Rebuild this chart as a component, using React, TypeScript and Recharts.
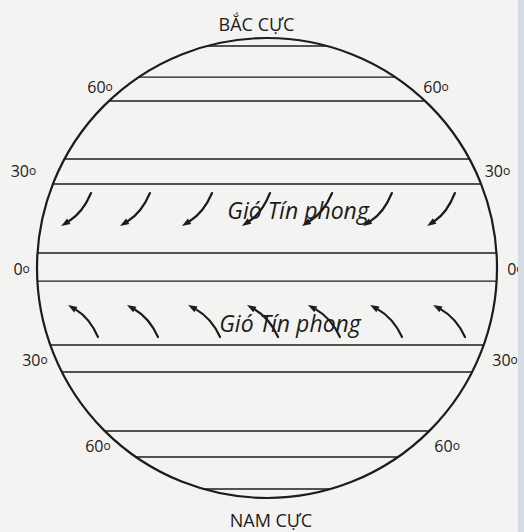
import React from 'react';
import {
  ComposedChart, XAxis, YAxis, Scatter, ReferenceLine, ReferenceDot,
} from 'recharts';

// globe coordinates: the circle has radius 100, centre at 0,0
const latitudeLines = [96.5, 83, 72.6, 47.4, 36.5, 6.5, -5.7, -33.5, -45.2, -70.9, -82.2, -96.1];

// north trade winds: tail (top right) -> head (bottom left)
const northTailX = [-76.5, -50.9, -23.9, 1.3, 28.3, 54.3, 81.7];
const northHeadX = [-89.5, -63.9, -37, -10.9, 15.2, 41.7, 69.6];
const northTailY = 32.6;
const northHeadY = 18.3;

// south trade winds: tail (bottom right) -> head (top left)
const southTailX = [-73.5, -47.4, -20.4, 4.8, 31.7, 58.7, 86.1];
const southHeadX = [-86.5, -60.9, -34.3, -8.7, 17.8, 44.8, 72.2];
const southTailY = -30;
const southHeadY = -16.1;

const degreeLabels = [
  { x: -72.6, y: 78.3, text: '60' },
  { x: 73.5, y: 78.3, text: '60' },
  { x: -105.9, y: 41.7, text: '30' },
  { x: 100.2, y: 41.7, text: '30' },
  { x: -106.7, y: -0.9, text: '0' },
  { x: 108, y: -0.9, text: '0' },
  { x: -100.9, y: -40.4, text: '30' },
  { x: 103.5, y: -40.4, text: '30' },
  { x: -73.5, y: -77.8, text: '60' },
  { x: 78.3, y: -77.8, text: '60' },
];

const poleLabels = [
  { x: -4.6, y: 105.7, text: 'BẮC CỰC' },
  { x: 1.7, y: -110, text: 'NAM CỰC' },
];

const windLabels = [
  { x: 13.5, y: 21.3, text: 'Gió Tín phong' },
  { x: 10, y: -27.8, text: 'Gió Tín phong' },
];

const W = 524;
const H = 532;
const margin = { top: 38, right: 27, bottom: 34, left: 37 };
const R = (W - margin.left - margin.right) / 2;
const INK = '#1c1c1c';
const FONT = '"Open Sans", "Noto Sans", sans-serif';

const half = (y: number) => Math.sqrt(Math.max(0, 100 * 100 - y * y));

const CurvedArrow = (props: any) => {
  const { x1, y1, x2, y2 } = props;
  if (x1 == null) return null;
  const cx = x1 + 0.28 * (x2 - x1);
  const cy = y1 + 0.6 * (y2 - y1);
  const ang = Math.atan2(y2 - cy, x2 - cx);
  const len = 9;
  const wid = 3.2;
  const bx = x2 - len * Math.cos(ang);
  const by = y2 - len * Math.sin(ang);
  const px = -Math.sin(ang) * wid;
  const py = Math.cos(ang) * wid;
  return (
    <g>
      <path d={`M${x1},${y1} Q${cx},${cy} ${bx},${by}`} fill="none" stroke={INK} strokeWidth={2.2} strokeLinecap="round" />
      <path d={`M${x2},${y2} L${bx + px},${by + py} L${bx - px},${by - py} Z`} fill={INK} />
    </g>
  );
};

const degreeText = (text: string) => (props: any) => (
  <text x={props.cx} y={props.cy + 5} textAnchor="middle" fontFamily={FONT} fontSize={16} fill={INK}>
    {text}
    <tspan fontSize={12} dy={-2}>o</tspan>
  </text>
);

const poleText = (text: string) => (props: any) => (
  <text x={props.cx} y={props.cy + 6} textAnchor="middle" fontFamily={FONT} fontSize={18} fill={INK}>
    {text}
  </text>
);

const windText = (text: string) => (props: any) => (
  <text x={props.cx} y={props.cy} textAnchor="middle" fontFamily={FONT} fontStyle="italic" fontSize={23} fill={INK}>
    {text}
  </text>
);

export default function App() {
  return (
    <div style={{ position: 'absolute', left: 0, top: 0, width: W, height: H, background: '#f3f3f1', overflow: 'hidden' }}>
      <ComposedChart width={W} height={H} margin={margin}>
        <XAxis type="number" dataKey="x" domain={[-100, 100]} allowDataOverflow hide />
        <YAxis type="number" dataKey="y" domain={[-100, 100]} allowDataOverflow hide />
        <Scatter data={[{ x: 0, y: 0 }]} shape={() => null} isAnimationActive={false} />
        <ReferenceDot x={0} y={0} r={R} fill="none" stroke={INK} strokeWidth={2.2} ifOverflow="visible" />
        {latitudeLines.map((y, i) => (
          <ReferenceLine
            key={`lat-${i}`}
            segment={[{ x: -half(y), y }, { x: half(y), y }]}
            stroke={INK}
            strokeWidth={1.4}
            ifOverflow="visible"
          />
        ))}
        {northTailX.map((x, i) => (
          <ReferenceLine
            key={`n-${i}`}
            segment={[{ x, y: northTailY }, { x: northHeadX[i], y: northHeadY }]}
            shape={CurvedArrow}
            ifOverflow="visible"
          />
        ))}
        {southTailX.map((x, i) => (
          <ReferenceLine
            key={`s-${i}`}
            segment={[{ x, y: southTailY }, { x: southHeadX[i], y: southHeadY }]}
            shape={CurvedArrow}
            ifOverflow="visible"
          />
        ))}
        {degreeLabels.map((d, i) => (
          <ReferenceDot key={`d-${i}`} x={d.x} y={d.y} ifOverflow="visible" shape={degreeText(d.text)} />
        ))}
        {poleLabels.map((d, i) => (
          <ReferenceDot key={`p-${i}`} x={d.x} y={d.y} ifOverflow="visible" shape={poleText(d.text)} />
        ))}
        {windLabels.map((d, i) => (
          <ReferenceDot key={`w-${i}`} x={d.x} y={d.y} ifOverflow="visible" shape={windText(d.text)} />
        ))}
      </ComposedChart>
      <div style={{ position: 'absolute', left: 518, top: 0, width: 6, height: H, background: '#d3dce7' }} />
    </div>
  );
}
